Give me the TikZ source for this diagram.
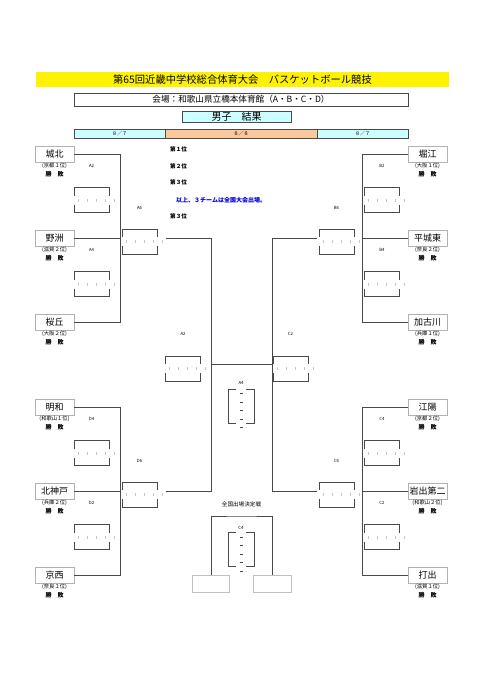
\documentclass[tikz,border=0pt]{standalone}
\usepackage{fontspec}
\setmainfont{Noto Sans CJK JP}
\definecolor{hdcyan}{HTML}{CCFFFF}
\definecolor{hdorange}{HTML}{FBC89C}
\definecolor{ln}{HTML}{4A4A4A}
\tikzset{
  team/.style={draw=gray!60,fill=white,minimum width=39,minimum height=16,inner sep=0,font=\fontsize{9}{9}\selectfont},
  pref/.style={inner sep=0,font=\fontsize{5.3}{5.3}\selectfont},
  win/.style={inner sep=0,font=\bfseries\fontsize{6}{6}\selectfont},
  lab/.style={inner sep=0,font=\fontsize{4.3}{4.3}\selectfont},
  rank/.style={anchor=west,inner sep=0,font=\bfseries\fontsize{5.6}{5.6}\selectfont},
  datecell/.style={draw=ln,minimum height=9,inner sep=0,font=\fontsize{5}{5}\selectfont},
  conn/.style={draw=ln,line width=0.9pt},
  bracket/.style={draw=ln,line width=1pt},
  tick/.style={draw=gray!45,line width=0.4pt},
}
\begin{document}
\begin{tikzpicture}[x=1pt,y=-1pt]
\useasboundingbox (0,0) rectangle (481,680);
% header
\node[fill=yellow,minimum width=413,minimum height=15,inner sep=0,font=\fontsize{10.3}{10.3}\selectfont] (title) at (242.5,79.5) {第65回近畿中学校総合体育大会　バスケットボール競技};
\node[draw=ln,fill=white,minimum width=334,minimum height=13,inner sep=0,font=\fontsize{8.6}{8.6}\selectfont] (venue) at (241,99.5) {会場：和歌山県立橋本体育館（A・B・C・D）};
\node[draw=ln,fill=hdcyan,minimum width=109,minimum height=11,inner sep=0,font=\fontsize{10}{10}\selectfont] (sex) at (236.5,117) {男子　結果};
\node[datecell,fill=hdcyan,minimum width=91] (d1) at (119.5,133.5) {８／７};
\node[datecell,fill=hdorange,minimum width=152] (d2) at (241,133.5) {８／８};
\node[datecell,fill=hdcyan,minimum width=91] (d3) at (362.5,133.5) {８／７};
% teams
\foreach \n/\x/\y/\name/\pref in {
  ta/54.5/154/城北/京都１位, tb/54.5/238/野洲/滋賀２位, tc/54.5/322/桜丘/大阪２位,
  td/54.5/407/明和/和歌山１位, te/54.5/491/北神戸/兵庫２位, tf/54.5/575/京西/奈良１位,
  tg/427.5/154/堀江/大阪１位, th/427.5/238/平城東/奈良２位, ti/427.5/322/加古川/兵庫１位,
  tj/427.5/407/江陽/京都２位, tk/427.5/491/岩出第二/和歌山２位, tl/427.5/575/打出/滋賀１位}{
  \node[team] (\n) at (\x,\y) {\name};
  \node[pref] (\n-p) at (\x,\y+11.5) {(\pref)};
  \node[win] (\n-w) at (\x,\y+20) {勝　敗};
}
% score boxes
\foreach \x/\y in {91.5/200,91.5/284,139.5/241.5,91.5/453,91.5/537,139.5/494.5,183/368.5,
  290.5/368.5,336.5/241.5,382/200,382/284,336.5/494.5,382/453,382/537}{
  \pgfmathsetmacro{\xl}{\x-17.5}
  \pgfmathsetmacro{\xr}{\x+17.5}
  \pgfmathsetmacro{\yt}{\y-12.5}
  \pgfmathsetmacro{\yb}{\y+12.5}
  \draw[bracket] (\xl,\yt+8)--(\xl,\yt)--(\xr,\yt)--(\xr,\yt+8);
  \draw[bracket] (\xl,\yb-8)--(\xl,\yb)--(\xr,\yb)--(\xr,\yb-8);
  \foreach \k in {0,...,4} \draw[tick] (\xl+4+9*\k,\y-1.5)--++(0,3);
}
\foreach \y in {406,549.5}{
  \pgfmathsetmacro{\yt}{\y-17}
  \pgfmathsetmacro{\yb}{\y+17}
  \draw[bracket] (236,\yt)--(228,\yt)--(228,\yb)--(236,\yb);
  \draw[bracket] (246,\yt)--(254,\yt)--(254,\yb)--(246,\yb);
  \foreach \k in {0,...,4} \draw[draw=ln,line width=0.6pt] (239.5,\yt+4.7+8.5*\k)--++(3,0);
}
% game labels
\foreach \n/\x/\y/\s in {la2/91.5/166/A2,la4/91.5/250/A4,la6/139.5/208/A6,ld4/91.5/419/D4,
  ld2/91.5/503/D2,ld6/139.5/461/D6,lfa/183/334/A2,lfc/290.5/334/C2,lb2/382/166/B2,lb4/382/250/B4,
  lb6/336.5/208/B6,lc4/382/419/C4,lc2/382/503/C2,lc6/336.5/461/C6,lma/241/383/A4,lmc/241/528/C4}
  \node[lab] (\n) at (\x,\y) {\s};
% lines
\coordinate (ja) at (120,238);
\coordinate (jd) at (120,491);
\coordinate (jg) at (362,238);
\coordinate (jj) at (362,491);
\draw[conn] (ta.east) -| (ja); \draw[conn] (tc.east) -| (ja); \draw[conn] (tb.east) -- (ja);
\draw[conn] (td.east) -| (jd); \draw[conn] (tf.east) -| (jd); \draw[conn] (te.east) -- (jd);
\draw[conn] (tg.west) -| (jg); \draw[conn] (ti.west) -| (jg); \draw[conn] (th.west) -- (jg);
\draw[conn] (tj.west) -| (jj); \draw[conn] (tl.west) -| (jj); \draw[conn] (tk.west) -- (jj);
\coordinate (a6o) at (166,238);
\coordinate (d6o) at (166,491);
\coordinate (b6o) at (317,238);
\coordinate (c6o) at (317,491);
\coordinate (jl) at (211,364);
\coordinate (jr) at (272,364);
\draw[conn] (a6o) -| (jl); \draw[conn] (d6o) -| (jl); \draw[conn] (jl) -- (jr);
\draw[conn] (b6o) -| (jr); \draw[conn] (c6o) -| (jr);
% ranking
\node[rank] (r1) at (170,149) {第１位};
\node[rank] (r2) at (170,166) {第２位};
\node[rank] (r3) at (170,182) {第３位};
\node[rank,text=blue!85!black,font=\bfseries\fontsize{6}{6}\selectfont] (rn) at (176,200) {以上、３チームは全国大会出場。};
\node[rank] (r4) at (170,216) {第３位};
% play-off
\node[lab,font=\fontsize{5.6}{5.6}\selectfont] (kd) at (241.5,504) {全国出場決定戦};
\node[draw=gray!50,minimum width=37,minimum height=17,inner sep=0] (ka) at (211,583.5) {};
\node[draw=gray!50,minimum width=38,minimum height=17,inner sep=0] (kb) at (272,583.5) {};
\coordinate (kt) at (241.5,516);
\draw[conn] (ka.north) |- (kt) -| (kb.north);
\end{tikzpicture}
\end{document}
